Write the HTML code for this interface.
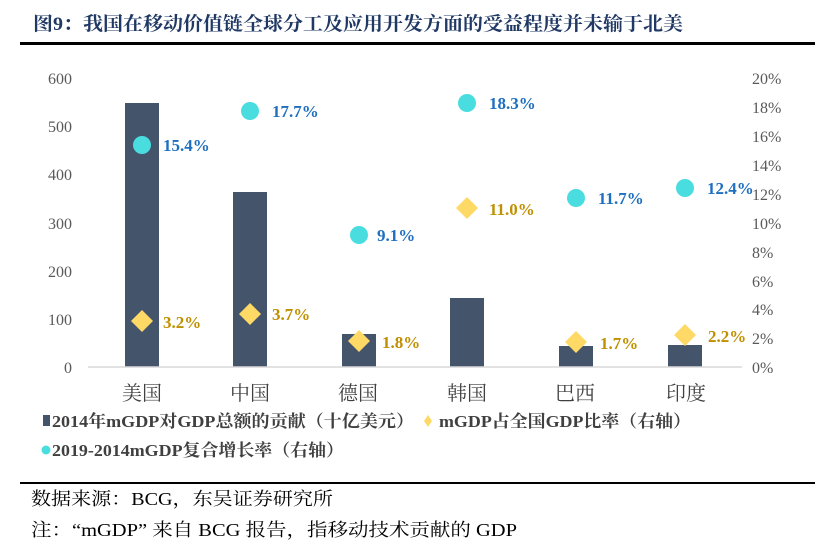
<!DOCTYPE html>
<html><head><meta charset="utf-8"><style>
body{margin:0;background:#fff;width:838px;height:550px;overflow:hidden}
svg text{font-family:"Liberation Serif","Noto Serif CJK SC",serif}
</style></head><body>
<svg width="838" height="550" xmlns="http://www.w3.org/2000/svg">
<text x="33" y="30" font-size="19" font-weight="bold" fill="#1f3864" textLength="650" lengthAdjust="spacingAndGlyphs">图9：我国在移动价值链全球分工及应用开发方面的受益程度并未输于北美</text>
<rect x="20" y="42" width="795" height="3" fill="#000"/>
<g font-size="16" fill="#595959" text-anchor="end">
<text x="72" y="84">600</text><text x="72" y="132">500</text><text x="72" y="180">400</text>
<text x="72" y="229">300</text><text x="72" y="277">200</text><text x="72" y="325">100</text><text x="72" y="373">0</text>
</g>
<g font-size="16" fill="#595959">
<text x="752" y="84">20%</text><text x="752" y="113">18%</text><text x="752" y="142">16%</text>
<text x="752" y="171">14%</text><text x="752" y="200">12%</text><text x="752" y="229">10%</text>
<text x="752" y="258">8%</text><text x="752" y="287">6%</text><text x="752" y="315">4%</text>
<text x="752" y="344">2%</text><text x="752" y="373">0%</text>
</g>
<g fill="#44546a">
<rect x="125" y="103" width="34" height="264"/>
<rect x="233" y="192" width="34" height="175"/>
<rect x="342" y="334" width="34" height="33"/>
<rect x="450" y="298" width="34" height="69"/>
<rect x="559" y="346" width="34" height="21"/>
<rect x="668" y="345" width="34" height="22"/>
</g>
<line x1="88" y1="367" x2="742" y2="367" stroke="#d9d9d9" stroke-width="1.5"/>
<g fill="#ffd966">
<path d="M142 310l11 11-11 11-11-11z"/>
<path d="M250 303l11 11-11 11-11-11z"/>
<path d="M359 330l11 11-11 11-11-11z"/>
<path d="M467 197l11 11-11 11-11-11z"/>
<path d="M576 331l11 11-11 11-11-11z"/>
<path d="M685 324l11 11-11 11-11-11z"/>
</g>
<g fill="#4adde0">
<circle cx="142" cy="145" r="9"/><circle cx="250" cy="111" r="9"/>
<circle cx="359" cy="235" r="9"/><circle cx="467" cy="103" r="9"/>
<circle cx="576" cy="198" r="9"/><circle cx="685" cy="188" r="9"/>
</g>
<g font-size="17" font-weight="bold" fill="#bf9000">
<text x="163" y="328">3.2%</text><text x="272" y="320">3.7%</text>
<text x="382" y="348">1.8%</text><text x="489" y="215">11.0%</text>
<text x="600" y="349">1.7%</text><text x="708" y="342">2.2%</text>
</g>
<g font-size="17" font-weight="bold" fill="#1f6fc0">
<text x="163" y="151">15.4%</text><text x="272" y="117">17.7%</text>
<text x="377" y="241">9.1%</text><text x="489" y="109">18.3%</text>
<text x="598" y="204">11.7%</text><text x="707" y="194">12.4%</text>
</g>
<g font-size="20" fill="#404040" text-anchor="middle">
<text x="142" y="400">美国</text><text x="250" y="400">中国</text><text x="358" y="400">德国</text>
<text x="467" y="400">韩国</text><text x="575" y="400">巴西</text><text x="686" y="400">印度</text>
</g>
<rect x="43" y="415" width="7" height="11" fill="#44546a"/>
<text x="52" y="427" font-size="17" font-weight="bold" fill="#404040" textLength="362" lengthAdjust="spacingAndGlyphs">2014年mGDP对GDP总额的贡献（十亿美元）</text>
<path d="M428 415l4 6-4 6-4-6z" fill="#ffd966"/>
<text x="439" y="427" font-size="17" font-weight="bold" fill="#404040" textLength="252" lengthAdjust="spacingAndGlyphs">mGDP占全国GDP比率（右轴）</text>
<circle cx="46" cy="450" r="4.5" fill="#4adde0"/>
<text x="52" y="456" font-size="17" font-weight="bold" fill="#404040" textLength="292" lengthAdjust="spacingAndGlyphs">2019-2014mGDP复合增长率（右轴）</text>
<rect x="20" y="482" width="795" height="2" fill="#000"/>
<text x="31" y="505" font-size="18" fill="#000" textLength="302" lengthAdjust="spacingAndGlyphs">数据来源：BCG，东吴证券研究所</text>
<text x="31" y="536" font-size="18" fill="#000" textLength="486" lengthAdjust="spacingAndGlyphs">注：“mGDP” 来自 BCG 报告，指移动技术贡献的 GDP</text>
</svg>
</body></html>
